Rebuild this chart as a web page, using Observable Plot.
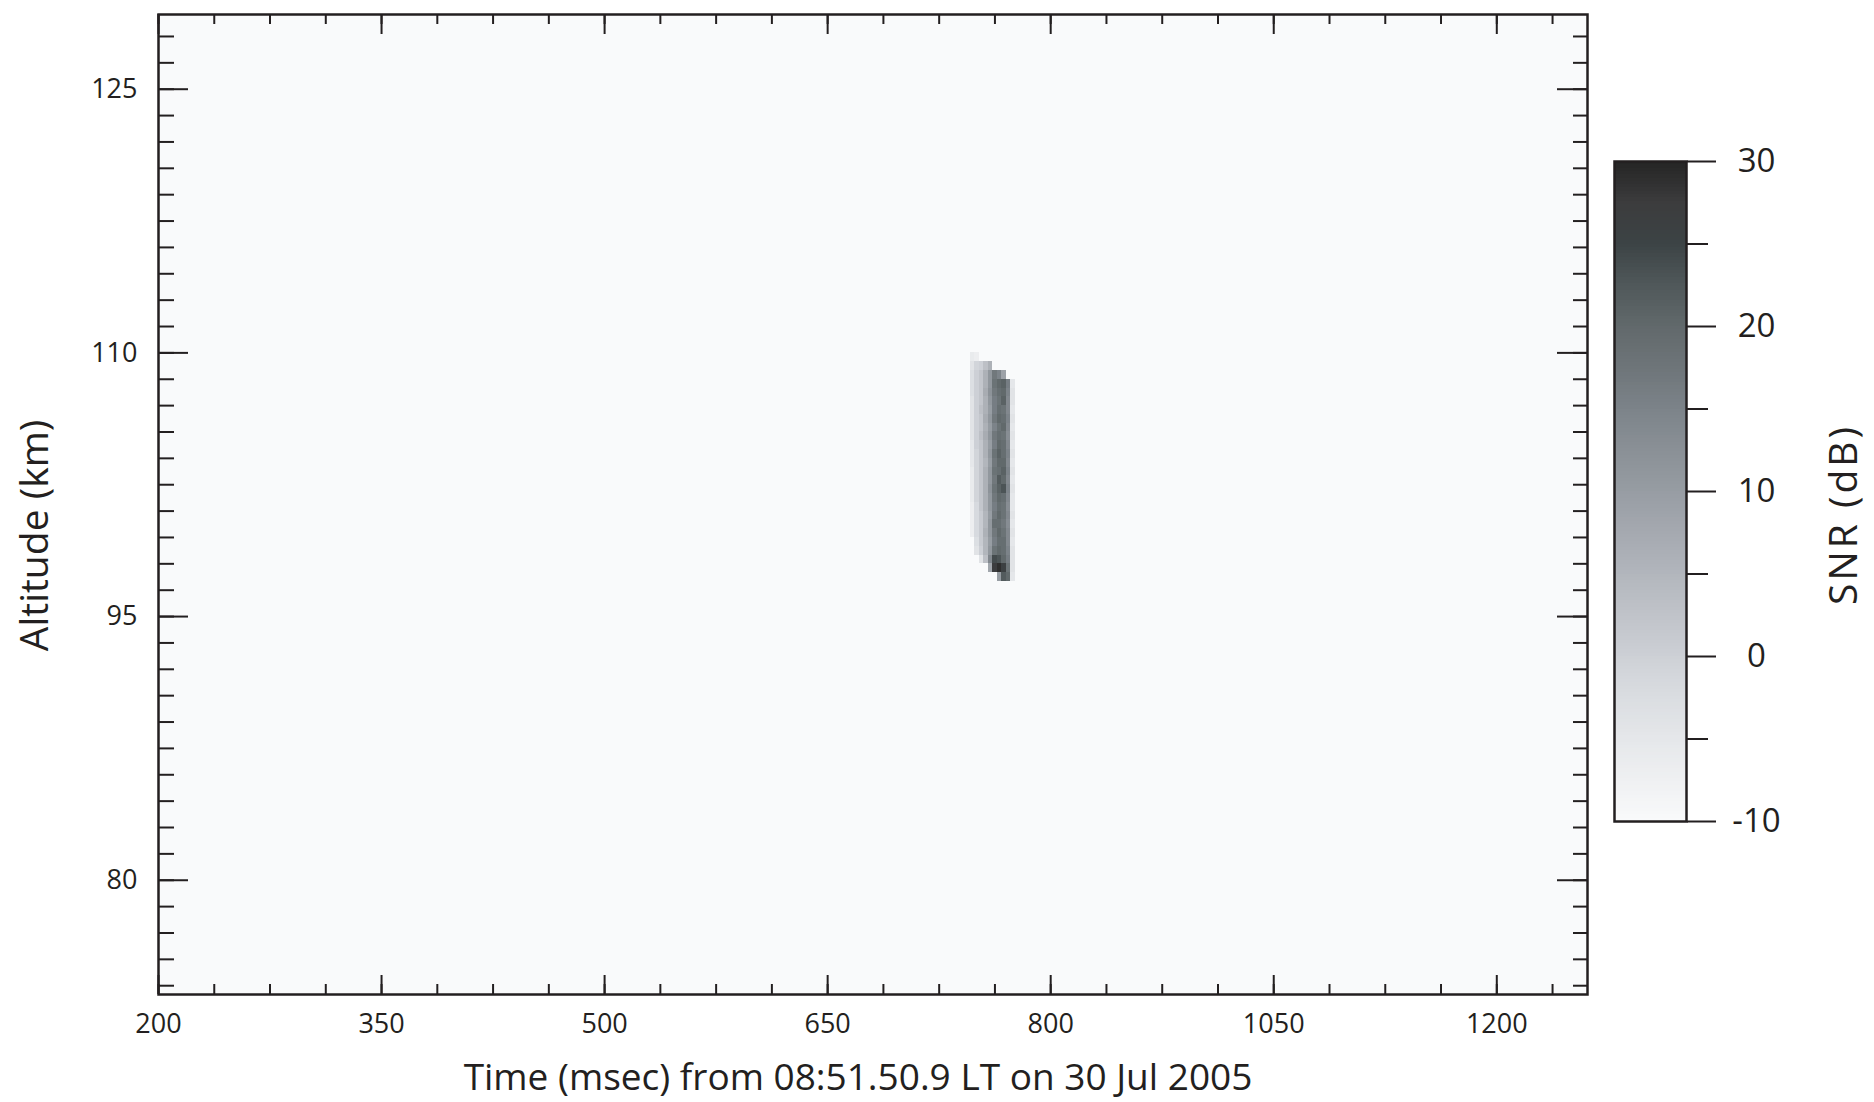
<!DOCTYPE html>
<html>
<head>
<meta charset="utf-8">
<script src="https://cdn.jsdelivr.net/npm/d3@7"></script>
<script src="https://cdn.jsdelivr.net/npm/@observablehq/plot@0.6"></script>
<style>
  html, body { margin: 0; padding: 0; background: #ffffff; }
  #wrap { position: relative; width: 1874px; height: 1102px; font-family: "Open Sans", sans-serif; }
  #wrap svg { position: absolute; top: 0; }
</style>
</head>
<body>
<div id="wrap"></div>
<script>
// ---------------- data ----------------
// time-bin edges (msec) of the meteor-echo columns
const timeEdges = [746, 749, 752, 755, 758, 761, 764, 767, 770, 773, 776];
// altitude-bin tops (km); each bin is 0.5 km tall
const altTops = [110, 109.5, 109, 108.5, 108, 107.5, 107, 106.5, 106, 105.5, 105, 104.5, 104,
                 103.5, 103, 102.5, 102, 101.5, 101, 100.5, 100, 99.5, 99, 98.5, 98, 97.5];
const altStep = 0.5;
// SNR (dB) per altitude row (top to bottom) and time column; null = background
const snrRows = [
  [-6, -7, null, null, null, null, null, null, null, null],
  [-4, -1, 0, 3, 6, null, null, null, null, null],
  [-3, 0, 2, 6, 11, 17, 15, 9, null, null],
  [-3, 0, 2, 6, 11, 18, 20, 21, 16, -5],
  [-3, 0, 2, 7, 12, 17, 19, 20, 15, -4],
  [-4, 0, 2, 6, 11, 16, 18, 21, 14, -4],
  [-4, 0, 3, 6, 10, 16, 19, 18, 14, -5],
  [-4, 0, 2, 7, 11, 17, 20, 19, 15, -4],
  [-4, 0, 2, 6, 10, 15, 18, 20, 14, -5],
  [-4, 0, 3, 7, 11, 17, 19, 18, 13, -4],
  [-5, 0, 2, 6, 10, 16, 20, 19, 14, -5],
  [-5, -1, 2, 6, 11, 18, 21, 19, 15, -4],
  [-5, -1, 2, 5, 10, 17, 20, 20, 14, -5],
  [-6, -1, 2, 6, 11, 18, 19, 21, 15, -4],
  [-6, -1, 2, 6, 11, 17, 22, 20, 14, -5],
  [-6, -1, 2, 6, 12, 18, 21, 23, 15, -4],
  [-6, -1, 2, 6, 11, 17, 20, 19, 14, -5],
  [-7, -2, 2, 6, 11, 16, 19, 18, 13, -5],
  [-7, -2, 1, 5, 10, 17, 20, 18, 14, -4],
  [-7, -2, 1, 5, 11, 19, 19, 17, 13, -5],
  [-7, -2, 1, 6, 11, 17, 20, 18, 14, -4],
  [null, -3, 1, 5, 10, 16, 19, 19, 14, -5],
  [null, -4, 0, 5, 11, 18, 20, 19, 15, -4],
  [null, null, -4, 3, 14, 24, 23, 20, 16, -4],
  [null, null, null, null, 8, 27, 29, 26, 18, -4],
  [null, null, null, null, null, null, 10, 22, 20, -5]
];
const backgroundSNR = -10;

// axes
const xDomain = [200, 1161];
const yDomain = [73.5, 129.25];
const xTickValues = [200, 350, 500, 650, 800, 950, 1100];
const xTickLabels = ["200", "350", "500", "650", "800", "1050", "1200"];
const yTickValues = [80, 95, 110, 125];
const yTickLabels = ["80", "95", "110", "125"];
const xTitle = "Time (msec) from 08:51.50.9 LT on 30 Jul 2005";
const yTitle = "Altitude (km)";

// colour bar
const cbDomain = [-10, 30];
const cbMajor = [-10, 0, 10, 20, 30];
const cbMinor = [-5, 5, 15, 25];
const cbTitle = "SNR (dB)";
const colorStops = [-10, -7.5, -5, -2.5, 0, 2.5, 5, 7.5, 10, 12.5, 15, 17.5, 20, 22.5, 25, 27.5, 30];
const colorHex = ["#f9fafb", "#eff0f2", "#e5e7ea", "#dadde1", "#cdd0d6", "#c0c3c9", "#b2b6bc", "#a5a9b0",
                  "#979da3", "#8a9096", "#7c8389", "#6e7579", "#61696b", "#50585a", "#3c4345", "#3c3c3d", "#242424"];

// ---------------- build ----------------
const ink = "#231f20";
const colorScale = {type: "linear", domain: colorStops, range: colorHex, clamp: true};

const cells = [{t1: xDomain[0], t2: xDomain[1], a1: yDomain[0], a2: yDomain[1], snr: backgroundSNR}];
snrRows.forEach((row, r) => {
  row.forEach((v, c) => {
    if (v === null) return;
    cells.push({t1: timeEdges[c], t2: timeEdges[c + 1], a1: altTops[r] - altStep, a2: altTops[r], snr: v});
  });
});

const W = 1874, H = 1102;
const mL = 158, mR = 287, mT = 14, mB = 108;
const fw = W - mL - mR, fh = H - mT - mB;

const xMinor = d3.range(0, 26).map(i => 200 + 37.5 * i);
const yMinor = d3.range(0, 37).map(i => 74 + 1.5 * i);

const main = Plot.plot({
  width: W, height: H,
  marginLeft: mL, marginRight: mR, marginTop: mT, marginBottom: mB,
  style: {fontFamily: "Open Sans", color: ink, background: "transparent"},
  x: {domain: xDomain},
  y: {domain: yDomain},
  color: colorScale,
  marks: [
    Plot.rect(cells, {x1: "t1", x2: "t2", y1: "a1", y2: "a2", fill: "snr", shapeRendering: "crispEdges"}),
    // bottom ticks
    Plot.ruleX(xMinor, {x: d => d, insetTop: fh - 10, stroke: ink, strokeWidth: 2}),
    Plot.ruleX(xTickValues, {x: d => d, insetTop: fh - 19, stroke: ink, strokeWidth: 2}),
    // top ticks
    Plot.ruleX(xMinor, {x: d => d, insetBottom: fh - 10, stroke: ink, strokeWidth: 2}),
    Plot.ruleX(xTickValues, {x: d => d, insetBottom: fh - 20, stroke: ink, strokeWidth: 2}),
    // left ticks
    Plot.ruleY(yMinor, {y: d => d, insetRight: fw - 16, stroke: ink, strokeWidth: 2}),
    Plot.ruleY(yTickValues, {y: d => d, insetRight: fw - 30, stroke: ink, strokeWidth: 2}),
    // right ticks
    Plot.ruleY(yMinor, {y: d => d, insetLeft: fw - 14, stroke: ink, strokeWidth: 2}),
    Plot.ruleY(yTickValues, {y: d => d, insetLeft: fw - 30, stroke: ink, strokeWidth: 2}),
    Plot.frame({stroke: ink, strokeWidth: 2.5}),
    Plot.axisX({anchor: "bottom", ticks: xTickValues, tickFormat: d => xTickLabels[xTickValues.indexOf(d)],
                tickSize: 0, tickPadding: 19, fontSize: 27, label: null}),
    Plot.axisY({anchor: "left", ticks: yTickValues, tickFormat: d => yTickLabels[yTickValues.indexOf(d)],
                tickSize: 0, tickPadding: 21, fontSize: 27, label: null}),
    Plot.text([xTitle], {text: d => d, frameAnchor: "bottom", dy: 95, dx: -15, fontSize: 37, fill: ink}),
    Plot.text([yTitle], {text: d => d, frameAnchor: "left", textAnchor: "middle", rotate: -90, dx: -123, dy: 31, fontSize: 39, fill: ink})
  ]
});

// colour bar (separate small plot, positioned to the right)
const cbLeft = 1560;
const cbW = 314;
const cbStep = 0.2;
const cbSteps = d3.range(cbDomain[0], cbDomain[1], cbStep);
const cbar = Plot.plot({
  width: cbW, height: H,
  marginLeft: 1614 - cbLeft, marginRight: cbW - (1686 - cbLeft), marginTop: 161, marginBottom: H - 821,
  style: {fontFamily: "Open Sans", color: ink, background: "transparent"},
  x: {domain: [0, 1], axis: null},
  y: {domain: cbDomain},
  color: colorScale,
  marks: [
    Plot.rect(cbSteps, {x1: 0, x2: 1, y1: d => d, y2: d => Math.min(cbDomain[1], d + cbStep * 1.5), fill: d => d + cbStep / 2, shapeRendering: "crispEdges"}),
    Plot.frame({stroke: ink, strokeWidth: 2.5}),
    Plot.axisY(cbMajor, {anchor: "right", tickSize: 29, tickFormat: () => "", strokeWidth: 2, label: null}),
    Plot.axisY(cbMinor, {anchor: "right", tickSize: 21, tickFormat: () => "", strokeWidth: 2, label: null}),
    Plot.text(cbMajor, {y: d => d, text: d => String(d), frameAnchor: "right", dx: 70, textAnchor: "middle", fontSize: 33, fill: ink}),
    Plot.text([cbTitle], {text: d => d, frameAnchor: "right", textAnchor: "middle", rotate: -90, dx: 158, dy: 23, fontSize: 39, fill: ink})
  ]
});

const wrap = document.getElementById("wrap");
main.style.left = "0px";
cbar.style.left = cbLeft + "px";
wrap.appendChild(main);
wrap.appendChild(cbar);
cbar.querySelectorAll("text").forEach(t => {
  if (t.textContent === cbTitle) t.style.letterSpacing = "3px";
});
</script>
</body>
</html>
